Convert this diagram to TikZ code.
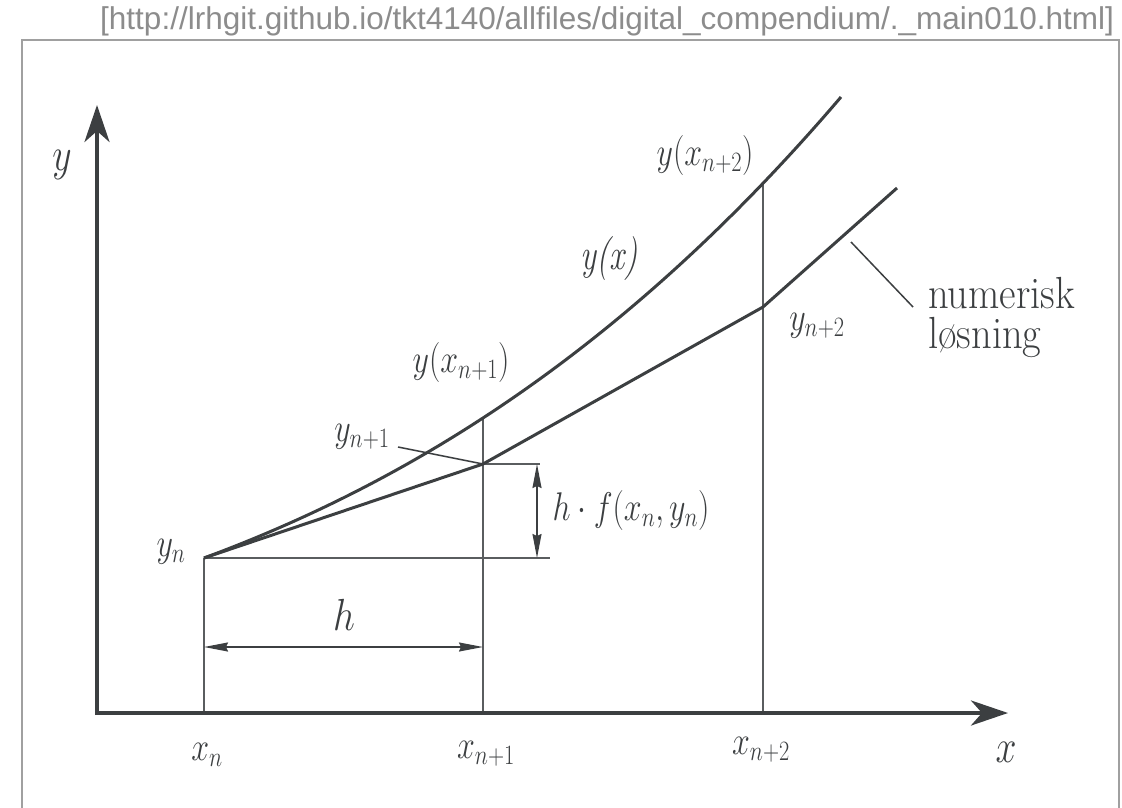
\RequirePackage{fix-cm}
\documentclass[tikz,border=0pt]{standalone}
\usepackage{fontspec}
\usepackage{graphicx}
\usetikzlibrary{arrows.meta}
\newfontfamily\urlfont{Liberation Sans}
\definecolor{ink}{HTML}{3C3F41}
\definecolor{thinc}{HTML}{5A5D5F}
\definecolor{framegray}{HTML}{A0A0A0}
\definecolor{urlgray}{HTML}{8C8C8C}
\newcommand\cnd[2][0.8]{\scalebox{#1}[1]{#2}}
\begin{document}
\begin{tikzpicture}[x=1pt,y=-1pt,
  axis/.style={line width=4pt, draw=ink, -{Stealth[length=37pt,width=25pt,inset=11pt]}},
  curve/.style={line width=3pt, draw=ink, line join=round},
  guide/.style={line width=1.5pt, draw=thinc},
  leader/.style={line width=1.5pt, draw=ink},
  dim/.style={line width=1.5pt, draw=ink, {Stealth[length=24pt,width=9pt,inset=2pt]}-{Stealth[length=24pt,width=9pt,inset=2pt]}},
  lab/.style={inner sep=0pt, anchor=base, text=ink, font=\fontsize{40}{48}\selectfont},
  txt/.style={inner sep=0pt, anchor=base west, text=ink, font=\fontsize{45}{40}\selectfont},
]
\useasboundingbox (0,0) rectangle (1122,808);
\draw[framegray, line width=1.5pt] (22,808) -- (22,40) -- (1119,40) -- (1119,808);
\node[anchor=base west, inner sep=0pt, text=urlgray, font=\urlfont\fontsize{31.5}{36}\selectfont] (url) at (100,30) {[http://lrhgit.github.io/tkt4140/allfiles/digital\_compendium/.\_main010.html]};

% points
\coordinate (O) at (97,713);
\coordinate (Oy) at (97,715);
\coordinate (Ox) at (95,713);
\coordinate (ytip) at (97,105);
\coordinate (xtip) at (1008,713);
\coordinate (xn) at (204,713);
\coordinate (xn1) at (483,713);
\coordinate (xn2) at (763,713);
\coordinate (yn) at (204,558);
\coordinate (yn1) at (483,464);
\coordinate (yn2) at (763,307);
\coordinate (numend) at (897,188);
\coordinate (Yn1) at (483,418);
\coordinate (Yn2) at (763,183);
\coordinate (exend) at (841,97);
\coordinate (ynr) at (550,558);
\coordinate (yn1r) at (540,464);
\coordinate (dimtop) at (537,464);
\coordinate (dimbot) at (537,558);
\coordinate (hl) at (204,647);
\coordinate (hr) at (483,647);
\coordinate (lead1) at (398,447);
\coordinate (lead2a) at (851,242);
\coordinate (lead2b) at (913,307);

% guide lines
\draw[guide] (xn) -- (yn);
\draw[guide] (xn1) -- (Yn1);
\draw[guide] (xn2) -- (Yn2);
\draw[guide] (yn) -- (ynr);
\draw[guide] (yn1) -- (yn1r);
\draw[leader] (lead1) -- (yn1);
\draw[leader] (lead2a) -- (lead2b);

% dimensions
\draw[dim] (dimtop) -- (dimbot);
\draw[dim] (hl) -- (hr);

% curves
\draw[curve] (yn) .. controls (416.3,479.4) and (628.7,345.7) .. (exend);
\draw[curve] (yn) -- (yn1) -- (yn2) -- (numend);

% axes
\draw[axis] (Oy) -- (ytip);
\draw[axis] (Ox) -- (xtip);

% labels
\node[lab, font=\fontsize{47}{50}\selectfont] (lyax) at (62,170) {\cnd{$y$}};
\node[lab, font=\fontsize{47}{50}\selectfont] (lxax) at (1006,762) {\cnd{$x$}};
\node[lab] (lxn) at (207,760) {\cnd{$x_n$}};
\node[lab] (lxn1) at (486,758) {\cnd{$x_{n+1}$}};
\node[lab] (lxn2) at (761,754) {\cnd{$x_{n+2}$}};
\node[lab] (lyn) at (171,556) {\cnd{$y_n$}};
\node[lab] (lyn1) at (362,441) {\cnd{$y_{n+1}$}};
\node[lab] (lYn1) at (461,372) {\cnd{$y(x_{n+1})$}};
\node[lab] (lYn2) at (705,165) {\cnd{$y(x_{n+2})$}};
\node[lab] (lyn2) at (817,330) {\cnd{$y_{n+2}$}};
\node[lab] (lhf) at (631,520) {\cnd{$h\cdot f(x_n,y_n)$}};
\node[lab, font=\fontsize{45}{48}\selectfont] (lh) at (344,630) {\cnd[0.86]{$h$}};
\node[lab, font=\fontsize{44}{48}\selectfont] (lyx) at (609,269) {\cnd[0.76]{\itshape y(x)}};
\node[txt] (lnum) at (928,308) {\vtop{\baselineskip=40pt\lineskiplimit=-20pt\hbox{\cnd[0.9]{numerisk}}\hbox{\cnd[0.9]{løsning}}}};
\end{tikzpicture}
\end{document}
